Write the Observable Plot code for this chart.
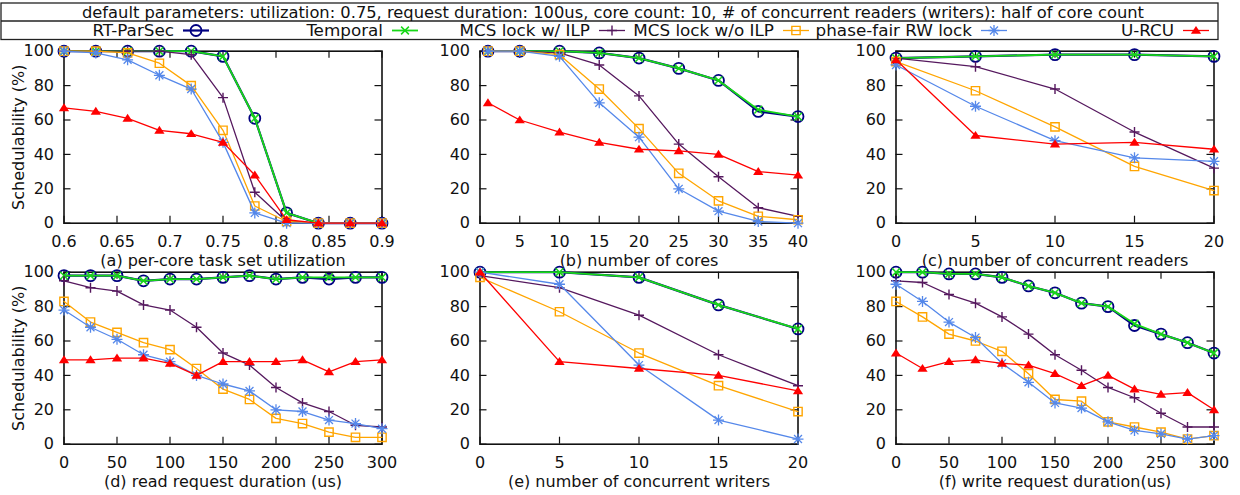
<!DOCTYPE html>
<html><head><meta charset="utf-8">
<script src="https://cdn.jsdelivr.net/npm/d3@7"></script>
<script src="https://cdn.jsdelivr.net/npm/@observablehq/plot@0.6"></script>
<style>
body{margin:0;background:#fff;}
#root{position:relative;width:1240px;height:495px;overflow:hidden;font-family:"DejaVu Sans",sans-serif;background:#fff;}
#root svg{position:absolute;overflow:visible;}
</style></head><body><div id="root"></div>
<script>
// ---------------- data ----------------
const seriesNames = ["RT-ParSec", "Temporal", "MCS lock w/ ILP", "MCS lock w/o ILP", "phase-fair RW lock", "U-RCU"];
const headerText = "default parameters: utilization: 0.75, request duration: 100us, core count: 10, # of concurrent readers (writers): half of core count";
const yLabel = "Schedulability (%)";
const panelTitles = ["(a) per-core task set utilization", "(b) number of cores", "(c) number of concurrent readers",
  "(d) read request duration (us)", "(e) number of concurrent writers", "(f) write request duration(us)"];
const yTicks = [0, 20, 40, 60, 80, 100];

// (a) utilization
const xA = [0.6, 0.63, 0.66, 0.69, 0.72, 0.75, 0.78, 0.81, 0.84, 0.87, 0.9];
const xTicksA = [0.6, 0.65, 0.7, 0.75, 0.8, 0.85, 0.9];
const a_rtparsec = [100, 100, 100, 100, 100, 97, 61, 6, 0, 0, 0];
const a_temporal = [100, 100, 100, 100, 100, 97, 61, 6, 0, 0, 0];
const a_mcsIlp = [100, 100, 100, 100, 98, 73, 18, 1, 0, 0, 0];
const a_mcsNoIlp = [100, 100, 99, 93, 80, 54, 10, 1, 0, 0, 0];
const a_phaseFair = [100, 99, 95, 86, 78, 47, 6, 0, 0, 0, 0];
const a_urcu = [67, 65, 61, 54, 52, 47, 28, 2, 0, 0, 0];

// (b) number of cores
const xB = [1, 5, 10, 15, 20, 25, 30, 35, 40];
const xTicksB = [0, 5, 10, 15, 20, 25, 30, 35, 40];
const b_rtparsec = [100, 100, 100, 99, 96, 90, 83, 65, 62];
const b_temporal = [100, 100, 100, 99, 96, 90, 83, 66, 62];
const b_mcsIlp = [100, 100, 99, 92, 74, 46, 27, 9, 4];
const b_mcsNoIlp = [100, 100, 98, 78, 55, 29, 13, 4, 2];
const b_phaseFair = [100, 100, 97, 70, 50, 20, 7, 1, 0];
const b_urcu = [70, 60, 53, 47, 43, 42, 40, 30, 28];

// (c) concurrent readers
const xC = [0, 5, 10, 15, 20];
const xTicksC = [0, 5, 10, 15, 20];
const c_rtparsec = [96, 97, 98, 98, 97];
const c_temporal = [96, 97, 98, 98, 97];
const c_mcsIlp = [96, 91, 78, 53, 32];
const c_mcsNoIlp = [94, 77, 56, 33, 19];
const c_phaseFair = [92, 68, 48, 38, 36];
const c_urcu = [95, 51, 46, 47, 43];

// (d) read request duration
const xD = [0, 25, 50, 75, 100, 125, 150, 175, 200, 225, 250, 275, 300];
const xTicksD = [0, 50, 100, 150, 200, 250, 300];
const d_rtparsec = [98, 98, 98, 95, 96, 96, 97, 98, 96, 97, 96, 97, 97];
const d_temporal = [98, 98, 98, 95, 96, 96, 97, 98, 96, 97, 97, 97, 97];
const d_mcsIlp = [95, 91, 89, 81, 78, 68, 53, 46, 33, 24, 19, 11, 10];
const d_mcsNoIlp = [83, 71, 65, 59, 55, 44, 32, 26, 15, 12, 7, 4, 4];
const d_phaseFair = [78, 68, 61, 52, 48, 40, 35, 31, 20, 19, 14, 12, 9];
const d_urcu = [49, 49, 50, 50, 47, 40, 48, 48, 48, 49, 42, 48, 49];

// (e) concurrent writers
const xE = [0, 5, 10, 15, 20];
const xTicksE = [0, 5, 10, 15, 20];
const e_rtparsec = [100, 100, 97, 81, 67];
const e_temporal = [100, 100, 97, 81, 67];
const e_mcsIlp = [98, 91, 75, 52, 34];
const e_mcsNoIlp = [97, 77, 53, 34, 19];
const e_phaseFair = [100, 93, 46, 14, 3];
const e_urcu = [100, 48, 44, 40, 31];

// (f) write request duration
const xF = [0, 25, 50, 75, 100, 125, 150, 175, 200, 225, 250, 275, 300];
const xTicksF = [0, 50, 100, 150, 200, 250, 300];
const f_rtparsec = [100, 100, 99, 99, 97, 92, 88, 82, 80, 69, 64, 59, 53];
const f_temporal = [100, 100, 99, 99, 97, 92, 88, 82, 80, 70, 64, 59, 53];
const f_mcsIlp = [95, 94, 87, 82, 74, 64, 52, 43, 33, 27, 18, 10, 10];
const f_mcsNoIlp = [83, 74, 64, 60, 54, 41, 26, 25, 13, 10, 7, 3, 5];
const f_phaseFair = [93, 83, 71, 62, 47, 36, 24, 21, 13, 8, 6, 3, 5];
const f_urcu = [53, 44, 48, 49, 47, 46, 41, 34, 40, 32, 29, 30, 20];

// ---------------- styles ----------------
function sym(fn) { return { draw(ctx, size) { fn(ctx, Math.sqrt(size / Math.PI)); } }; }
const symCircle = sym((c, r) => { c.moveTo(r, 0); c.arc(0, 0, r, 0, 2 * Math.PI); });
const symTimes = sym((c, r) => { const a = r * 0.78; c.moveTo(-a, -a); c.lineTo(a, a); c.moveTo(-a, a); c.lineTo(a, -a); });
const symPlus = sym((c, r) => { c.moveTo(-r, 0); c.lineTo(r, 0); c.moveTo(0, -r); c.lineTo(0, r); });
const symSquare = sym((c, r) => { const a = r * 0.8; c.moveTo(-a, -a); c.lineTo(a, -a); c.lineTo(a, a); c.lineTo(-a, a); c.closePath(); });
const symAster = sym((c, r) => { const a = r * 0.72; c.moveTo(-r, 0); c.lineTo(r, 0); c.moveTo(0, -r); c.lineTo(0, r);
  c.moveTo(-a, -a); c.lineTo(a, a); c.moveTo(-a, a); c.lineTo(a, -a); });
const symTri = sym((c, r) => { c.moveTo(0, -r * 0.85); c.lineTo(r * 0.95, r * 0.62); c.lineTo(-r * 0.95, r * 0.62); c.closePath(); });

const styles = [
  { color: "#000080", symbol: symCircle, r: 5.5, lw: 2.2, fill: "none", sw: 1.8 },
  { color: "#18d818", symbol: symTimes, r: 5, lw: 1.8, fill: "none", sw: 1.5 },
  { color: "#55185e", symbol: symPlus, r: 5, lw: 1.3, fill: "none", sw: 1.4 },
  { color: "#ffa500", symbol: symSquare, r: 5.2, lw: 1.3, fill: "none", sw: 1.4 },
  { color: "#5588ea", symbol: symAster, r: 5.5, lw: 1.3, fill: "none", sw: 1.3 },
  { color: "#ff0000", symbol: symTri, r: 5.4, lw: 1.3, fill: "#ff0000", sw: 0 }
];

const FW = 318, FH = 172, TICK = 7;
const panels = [
  { x: xA, ys: [a_rtparsec, a_temporal, a_mcsIlp, a_mcsNoIlp, a_phaseFair, a_urcu], xTicks: xTicksA, dom: [0.6, 0.9], left: 0, top: 40, yl: true },
  { x: xB, ys: [b_rtparsec, b_temporal, b_mcsIlp, b_mcsNoIlp, b_phaseFair, b_urcu], xTicks: xTicksB, dom: [0, 40], left: 416, top: 40, yl: false },
  { x: xC, ys: [c_rtparsec, c_temporal, c_mcsIlp, c_mcsNoIlp, c_phaseFair, c_urcu], xTicks: xTicksC, dom: [0, 20], left: 832, top: 40, yl: false },
  { x: xD, ys: [d_rtparsec, d_temporal, d_mcsIlp, d_mcsNoIlp, d_phaseFair, d_urcu], xTicks: xTicksD, dom: [0, 300], left: 0, top: 261, yl: true },
  { x: xE, ys: [e_rtparsec, e_temporal, e_mcsIlp, e_mcsNoIlp, e_phaseFair, e_urcu], xTicks: xTicksE, dom: [0, 20], left: 416, top: 261, yl: false },
  { x: xF, ys: [f_rtparsec, f_temporal, f_mcsIlp, f_mcsNoIlp, f_phaseFair, f_urcu], xTicks: xTicksF, dom: [0, 300], left: 832, top: 261, yl: false }
];

const root = document.getElementById("root");

panels.forEach((p, k) => {
  const mL = 63.5, mT = 10.7, W = 408, H = 234;
  const marks = [
    Plot.tickY(yTicks, { y: d => d, insetRight: FW - TICK, stroke: "#111", strokeWidth: 1.2 }),
    Plot.tickY(yTicks, { y: d => d, insetLeft: FW - TICK, stroke: "#111", strokeWidth: 1.2 }),
    Plot.tickX(p.xTicks, { x: d => d, insetTop: FH - TICK, stroke: "#111", strokeWidth: 1.2 }),
    Plot.tickX(p.xTicks, { x: d => d, insetBottom: FH - TICK, stroke: "#111", strokeWidth: 1.2 }),
    Plot.frame({ stroke: "#111", strokeWidth: 1.6 }),
    Plot.text(yTicks, { x: p.dom[0], y: d => d, text: d => String(d), textAnchor: "end", lineAnchor: "middle", dx: -10, fontSize: 16, fill: "#111" }),
    Plot.text(p.xTicks, { x: d => d, y: 0, text: d => String(d), lineAnchor: "middle", dy: 19, fontSize: 16, fill: "#111" }),
    Plot.text([panelTitles[k]], { frameAnchor: "bottom", textAnchor: "middle", lineAnchor: "middle", dy: 37.5, fontSize: 16, fill: "#111" })
  ];
  if (p.yl) marks.push(Plot.text([yLabel], { frameAnchor: "left", textAnchor: "middle", lineAnchor: "middle", rotate: -90, dx: -45, fontSize: 16, fill: "#111" }));
  p.ys.forEach((vals, i) => {
    const s = styles[i];
    const data = p.x.map((xv, j) => ({ x: xv, y: vals[j] }));
    marks.push(Plot.line(data, { x: "x", y: "y", stroke: s.color, strokeWidth: s.lw }));
    marks.push(Plot.dot(data, { x: "x", y: "y", symbol: s.symbol, r: s.r,
      stroke: s.fill === "none" ? s.color : "none", fill: s.fill, strokeWidth: s.sw }));
  });
  const svg = Plot.plot({
    width: W, height: H,
    marginLeft: mL, marginRight: W - mL - FW, marginTop: mT, marginBottom: H - mT - FH,
    x: { domain: p.dom, axis: null },
    y: { domain: [0, 100], axis: null },
    style: { fontFamily: "DejaVu Sans, sans-serif", background: "transparent", overflow: "visible" },
    marks
  });
  svg.style.left = p.left + "px";
  svg.style.top = p.top + "px";
  root.appendChild(svg);
});

// ---------------- header / legend ----------------
const legendCenters = [196, 405, 612, 796, 994, 1196];
const hdrFont = "'DejaVu Sans Condensed', 'DejaVu Sans', sans-serif";
const hdr = d3.select(root).append("svg").attr("width", 1240).attr("height", 45).style("left", "0px").style("top", "0px");
hdr.append("rect").attr("x", 1).attr("y", 3).attr("width", 1217).attr("height", 36.5)
  .attr("fill", "none").attr("stroke", "#222").attr("stroke-width", 1.3);
hdr.append("line").attr("x1", 1).attr("x2", 1218).attr("y1", 21).attr("y2", 21).attr("stroke", "#222").attr("stroke-width", 1.3);
const ht = hdr.append("text").attr("x", 613).attr("y", 12.3).attr("text-anchor", "middle").attr("dominant-baseline", "central")
  .style("font-family", hdrFont).style("font-stretch", "condensed")
  .style("font-size", "16.5px").attr("fill", "#111").text(headerText);
const hw = ht.node().getComputedTextLength();
if (hw > 0) ht.attr("textLength", 1062).attr("lengthAdjust", "spacingAndGlyphs");
seriesNames.forEach((name, i) => {
  const cx = legendCenters[i], cy = 30.5, s = styles[i];
  const t = hdr.append("text").attr("x", cx - 22).attr("y", cy).attr("text-anchor", "end").attr("dominant-baseline", "central")
    .style("font-family", hdrFont).style("font-stretch", "condensed")
    .style("font-size", "16.5px").attr("fill", "#111").text(name);
  const w = t.node().getComputedTextLength();
  if (w > 0) t.attr("textLength", w * 1.13).attr("lengthAdjust", "spacingAndGlyphs");
  hdr.append("line").attr("x1", cx - 13).attr("x2", cx + 13).attr("y1", cy).attr("y2", cy)
    .attr("stroke", s.color).attr("stroke-width", s.lw);
  hdr.append("path").attr("transform", `translate(${cx},${cy})`)
    .attr("d", d3.symbol(s.symbol, Math.PI * s.r * s.r)())
    .attr("fill", s.fill).attr("stroke", s.fill === "none" ? s.color : "none").attr("stroke-width", s.sw);
});
</script></body></html>
